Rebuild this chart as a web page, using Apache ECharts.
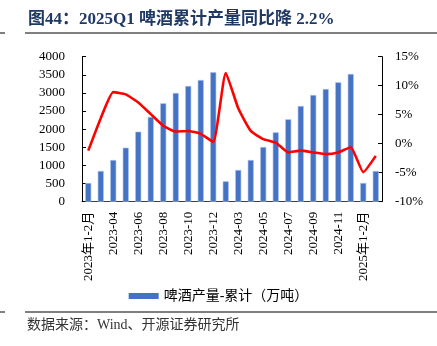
<!DOCTYPE html>
<html><head><meta charset="utf-8">
<script src="https://cdn.jsdelivr.net/npm/echarts@6/dist/echarts.min.js"></script>
<style>html,body{margin:0;padding:0;background:#fff}#c{width:437px;height:346px}</style>
</head><body><div id="c"></div>
<script>
const categories = ['2023年1-2月','2023-03','2023-04','2023-05','2023-06','2023-07','2023-08','2023-09','2023-10','2023-11','2023-12',
  '2024年1-2月','2024-03','2024-04','2024-05','2024-06','2024-07','2024-08','2024-09','2024-10','2024-11','2024-12',
  '2025年1-2月','2025-03'];
const production = [516,847,1150,1489,1931,2337,2714,2999,3192,3357,3569,
  562,874,1150,1509,1913,2272,2640,2943,3109,3293,3523,
  516,847];
const yoy = [-1.2,4.4,8.9,8.5,7.1,5.1,3.1,2.1,2.2,1.7,0.3,
  12.2,6.1,2.2,0.8,0.2,-1.5,-1.2,-1.5,-1.8,-1.5,-0.6,
  -4.9,-2.1];
const leftTicks = {min:0,max:4000,interval:500};
const rightTicks = {min:-10,max:15,interval:5};

const serif = "'Liberation Serif','Noto Sans CJK SC',serif";
const chart = echarts.init(document.getElementById('c'));
chart.setOption({
  animation:false,
  textStyle:{fontFamily:serif},
  graphic:[
    {type:'text',left:28,top:11,style:{text:'图44：2025Q1 啤酒累计产量同比降 2.2%',font:"bold 17px 'Liberation Serif','Noto Sans CJK SC'",fill:'#1F3864'}},
    {type:'line',shape:{x1:25,y1:33,x2:437,y2:33},style:{stroke:'#7f7f7f',lineWidth:2}},
    {type:'line',shape:{x1:0,y1:33,x2:5,y2:33},style:{stroke:'#7f7f7f',lineWidth:2}},
    {type:'line',shape:{x1:25,y1:312,x2:437,y2:312},style:{stroke:'#7f7f7f',lineWidth:2}},
    {type:'line',shape:{x1:0,y1:312,x2:5,y2:312},style:{stroke:'#7f7f7f',lineWidth:2}},
    {type:'text',left:27,top:318,style:{text:'数据来源：Wind、开源证券研究所',font:"14px 'Liberation Serif','Noto Sans CJK SC'",fill:'#333'}}
  ],
  grid:{left:82,right:55,top:56.7,bottom:144.3,containLabel:false},
  legend:{data:[{name:'啤酒产量-累计（万吨）',icon:'rect',itemStyle:{borderWidth:0,color:'#4472C4'}}],left:'center',top:284,itemWidth:30,itemHeight:6,itemGap:4,
    textStyle:{fontSize:14,color:'#000',fontFamily:serif}},
  xAxis:{type:'category',data:categories,boundaryGap:true,
    axisLine:{lineStyle:{color:'#404040',width:1}},
    axisTick:{inside:true,length:4,interval:function(i){return i%2===1;},lineStyle:{color:'#888'}},
    axisLabel:{interval:1,rotate:90,fontSize:13,color:'#000',margin:10,fontFamily:serif}},
  yAxis:[
    {type:'value',min:leftTicks.min,max:leftTicks.max,interval:leftTicks.interval,
      splitLine:{show:false},axisLine:{show:true,lineStyle:{color:'#000'}},
      axisTick:{show:true,inside:true,length:4,lineStyle:{color:'#000'}},
      axisLabel:{fontSize:13,color:'#000',margin:17,fontFamily:serif,formatter:function(v){return String(v);}}},
    {type:'value',min:rightTicks.min,max:rightTicks.max,interval:rightTicks.interval,position:'right',
      splitLine:{show:false},axisLine:{show:true,lineStyle:{color:'#000'}},
      axisTick:{show:true,inside:true,length:4,lineStyle:{color:'#000'}},
      axisLabel:{fontSize:13,color:'#000',margin:13,formatter:'{value}%',fontFamily:serif}}
  ],
  series:[
    {name:'啤酒产量-累计（万吨）',type:'bar',data:production,barWidth:6,yAxisIndex:0,
      itemStyle:{color:'#4472C4',borderColor:'#a9c0e8',borderWidth:0.6}},
    {name:'同比',type:'line',data:yoy,yAxisIndex:1,symbol:'none',smooth:0.15,
      lineStyle:{color:'#FF0000',width:2.6},z:5}
  ]
});
</script></body></html>
